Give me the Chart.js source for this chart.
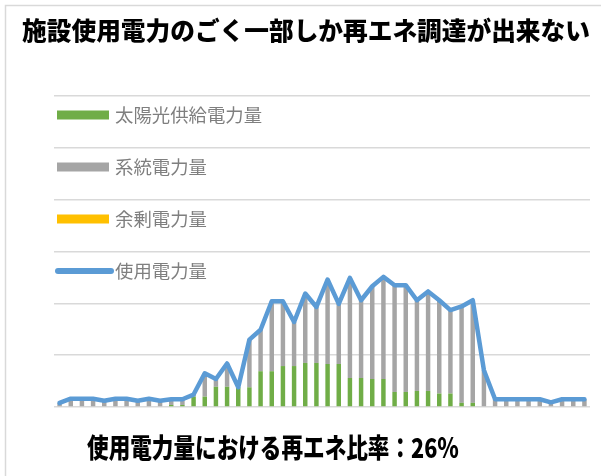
<!DOCTYPE html>
<html>
<head>
<meta charset="utf-8">
<script src="https://cdn.jsdelivr.net/npm/chart.js@4.4.1/dist/chart.umd.min.js"></script>
<style>
  html, body { margin: 0; padding: 0; background: #ffffff; }
  #wrap { width: 601px; height: 476px; position: relative; }
</style>
</head>
<body>
<div id="wrap"><canvas id="c" width="601" height="476"></canvas></div>
<script>
const titleText = "施設使用電力のごく一部しか再エネ調達が出来ない";
const noteText = "使用電力量における再エネ比率：26％";

const timeLabels = [
  "0:00","0:30","1:00","1:30","2:00","2:30","3:00","3:30","4:00","4:30","5:00","5:30",
  "6:00","6:30","7:00","7:30","8:00","8:30","9:00","9:30","10:00","10:30","11:00","11:30",
  "12:00","12:30","13:00","13:30","14:00","14:30","15:00","15:30","16:00","16:30","17:00","17:30",
  "18:00","18:30","19:00","19:30","20:00","20:30","21:00","21:30","22:00","22:30","23:00","23:30"
];

const seriesNames = ["太陽光供給電力量", "系統電力量", "余剰電力量", "使用電力量"];

const solarSupply = [
  0, 0, 0, 0, 0, 0, 0, 0, 0, 0, 0.4, 0.4,
  2.0, 2.0, 3.9, 3.9, 3.8, 3.8, 6.9, 6.9, 7.9, 7.9, 8.5, 8.5,
  8.3, 8.3, 5.6, 5.6, 5.4, 5.4, 2.9, 2.9, 3.1, 3.1, 2.6, 2.6,
  0.8, 0.8, 0, 0, 0, 0, 0, 0, 0, 0, 0, 0
];

const gridPower = [
  0.8, 1.6, 1.6, 1.6, 1.2, 1.6, 1.6, 1.2, 1.6, 1.2, 1.1, 1.1,
  0.4, 4.5, 1.5, 4.5, 0.0, 9.2, 8.0, 13.5, 12.5, 8.5, 13.4, 10.8,
  16.3, 11.6, 19.3, 15.0, 17.9, 19.7, 20.6, 20.6, 17.5, 19.2, 18.0, 16.1,
  18.6, 19.8, 7.1, 1.5, 1.5, 1.5, 1.5, 1.5, 0.9, 1.5, 1.5, 1.5
];

const surplusPower = [
  0, 0, 0, 0, 0, 0, 0, 0, 0, 0, 0, 0,
  0, 0, 0, 0, 0, 0, 0, 0, 0, 0, 0, 0,
  0, 0, 0, 0, 0, 0, 0, 0, 0, 0, 0, 0,
  0, 0, 0, 0, 0, 0, 0, 0, 0, 0, 0, 0
];

const usagePower = [
  0.8, 1.6, 1.6, 1.6, 1.2, 1.6, 1.6, 1.2, 1.6, 1.2, 1.5, 1.5,
  2.4, 6.5, 5.4, 8.4, 3.8, 13.0, 14.9, 20.4, 20.4, 16.4, 21.9, 19.3,
  24.6, 19.9, 24.9, 20.6, 23.3, 25.1, 23.5, 23.5, 20.6, 22.3, 20.6, 18.7,
  19.4, 20.6, 7.1, 1.5, 1.5, 1.5, 1.5, 1.5, 0.9, 1.5, 1.5, 1.5
];

const COLORS = {
  solar: "#70ad47",
  grid: "#a5a5a5",
  surplus: "#ffc000",
  usage: "#5b9bd5",
  gridline: "#d9d9d9",
  legendText: "#7f7f7f",
  text: "#000000"
};

const FONT = "'Noto Sans CJK JP', 'Noto Sans', sans-serif";

const overlayPlugin = {
  id: "overlay",
  beforeDraw(chart) {
    const ctx = chart.ctx;
    ctx.save();
    ctx.fillStyle = "#ffffff";
    ctx.fillRect(0, 0, chart.width, chart.height);
    ctx.strokeStyle = COLORS.gridline;
    ctx.lineWidth = 1.5;
    ctx.strokeRect(5.5, 5.5, 800, 800);
    ctx.restore();
  },
  afterDraw(chart) {
    const ctx = chart.ctx;
    ctx.save();
    // Title
    ctx.fillStyle = COLORS.text;
    ctx.textAlign = "center";
    ctx.textBaseline = "middle";
    ctx.font = "900 24.7px " + FONT;
    ctx.fillText(titleText, 306, 31);
    // Note (condensed, tall)
    ctx.save();
    ctx.translate(273, 448);
    ctx.scale(0.8, 1);
    ctx.font = "900 27px " + FONT;
    ctx.fillText(noteText, 0, 0);
    ctx.restore();
    // Legend
    const x0 = 57, sw = 52, rowY = [115, 167, 219, 271];
    chart.data.datasets.forEach((ds, i) => {
      const cy = rowY[i];
      if (ds.type === "line") {
        ctx.strokeStyle = ds.borderColor;
        ctx.lineWidth = 6;
        ctx.lineCap = "round";
        ctx.beginPath();
        ctx.moveTo(x0 + 1, cy);
        ctx.lineTo(x0 + sw + 2, cy);
        ctx.stroke();
      } else {
        ctx.fillStyle = ds.backgroundColor;
        ctx.fillRect(x0, cy - 4.5, sw, 9);
      }
      ctx.fillStyle = COLORS.legendText;
      ctx.textAlign = "left";
      ctx.textBaseline = "middle";
      ctx.font = "18.4px " + FONT;
      ctx.fillText(ds.label, 115, cy);
    });
    ctx.restore();
  }
};

new Chart(document.getElementById("c"), {
  data: {
    labels: timeLabels,
    datasets: [
      { type: "bar", label: seriesNames[0], data: solarSupply, backgroundColor: COLORS.solar, stack: "s", order: 1, barPercentage: 0.4, categoryPercentage: 1.0 },
      { type: "bar", label: seriesNames[1], data: gridPower, backgroundColor: COLORS.grid, stack: "s", order: 1, barPercentage: 0.4, categoryPercentage: 1.0 },
      { type: "bar", label: seriesNames[2], data: surplusPower, backgroundColor: COLORS.surplus, stack: "s", order: 1, barPercentage: 0.4, categoryPercentage: 1.0 },
      { type: "line", label: seriesNames[3], data: usagePower, borderColor: COLORS.usage, backgroundColor: COLORS.usage, borderWidth: 4.5, pointRadius: 0, tension: 0, borderJoinStyle: "round", borderCapStyle: "round", stack: "u", order: 0, fill: false }
    ]
  },
  options: {
    responsive: false,
    animation: false,
    layout: { padding: { left: 54, top: 96, right: 11, bottom: 69 } },
    plugins: {
      legend: { display: false },
      title: { display: false },
      tooltip: { enabled: false }
    },
    scales: {
      x: {
        stacked: true,
        offset: true,
        grid: { display: false, drawTicks: false },
        border: { display: false },
        ticks: { display: false }
      },
      y: {
        stacked: true,
        min: 0,
        max: 60,
        ticks: { display: false, stepSize: 10 },
        grid: { color: COLORS.gridline, lineWidth: 1.5, drawTicks: false },
        border: { display: false }
      }
    }
  },
  plugins: [overlayPlugin]
});
</script>
</body>
</html>
